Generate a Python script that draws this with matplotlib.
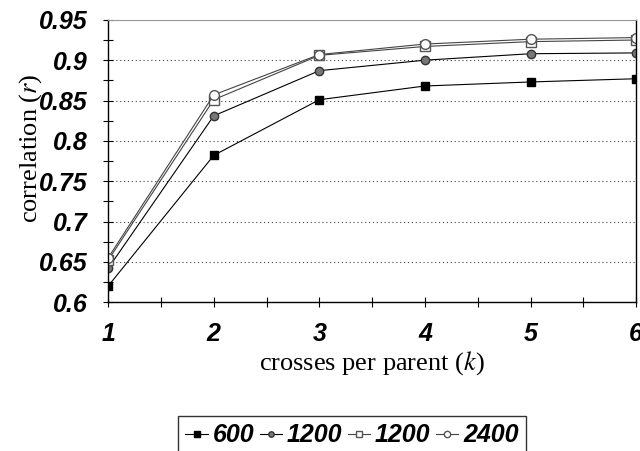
import matplotlib
matplotlib.use("Agg")
import matplotlib.pyplot as plt
from matplotlib.ticker import MultipleLocator

plt.rcParams["mathtext.fontset"] = "stix"

# data
k = [1, 2, 3, 4, 5, 6]
r_600 = [0.620, 0.782, 0.851, 0.868, 0.873, 0.877]
r_1200a = [0.642, 0.831, 0.887, 0.900, 0.908, 0.909]
r_1200b = [0.652, 0.851, 0.906, 0.917, 0.923, 0.925]
r_2400 = [0.655, 0.857, 0.907, 0.920, 0.926, 0.928]
labels = ["600", "1200", "1200", "2400"]

yticks = [0.6, 0.65, 0.7, 0.75, 0.8, 0.85, 0.9, 0.95]
ytick_labels = ["0.6", "0.65", "0.7", "0.75", "0.8", "0.85", "0.9", "0.95"]

fig = plt.figure(figsize=(6.4, 4.51), dpi=100)
ax = fig.add_axes([0.169, 0.330, 0.825, 0.626])

tick_font = dict(family="Liberation Sans", weight="bold", style="italic", size=18)

ax.plot(k, r_600, color="black", lw=0.8, marker="s", ms=6,
        mfc="black", mec="black", label=labels[0])
ax.plot(k, r_1200a, color="black", lw=0.8, marker="o", ms=6,
        mfc="#777777", mec="#333333", label=labels[1])
ax.plot(k, r_1200b, color="#444444", lw=0.8, marker="s", ms=7,
        mfc="white", mec="#555555", label=labels[2])
ax.plot(k, r_2400, color="#444444", lw=0.8, marker="o", ms=7,
        mfc="white", mec="#555555", label=labels[3])

ax.set_xlim(1, 6)
ax.set_ylim(0.6, 0.95)
ax.set_xticks(k)
ax.set_xticklabels([str(v) for v in k], fontdict=tick_font)
ax.set_yticks(yticks)
ax.set_yticklabels(ytick_labels, fontdict=tick_font)
ax.xaxis.set_minor_locator(MultipleLocator(0.5))
ax.yaxis.set_minor_locator(MultipleLocator(0.025))
ax.tick_params(which="both", direction="inout", length=7, width=0.8, color="black")
ax.tick_params(axis="x", pad=11)
ax.tick_params(axis="y", pad=11)

ax.yaxis.grid(True, linestyle=(0, (1, 2.5)), color="#444444", lw=0.8)
ax.set_axisbelow(True)

ax.spines["top"].set_color("#999999")
ax.spines["top"].set_linewidth(0.8)
for s in ["left", "bottom", "right"]:
    ax.spines[s].set_linewidth(1.0)

ax.set_xlabel("crosses per parent ($k$)", family="Liberation Serif", size=19)
ax.set_ylabel("correlation ($r$)", family="Liberation Serif", size=19)
ax.xaxis.set_label_coords(0.5, -0.216, transform=ax.transAxes)
ax.yaxis.set_label_coords(-0.146, 0.546, transform=ax.transAxes)
ax.xaxis.label.set_va("center")
ax.yaxis.label.set_va("center")

leg = fig.legend(loc="upper left", bbox_to_anchor=(0.278, 0.078), ncol=4,
                 prop=dict(family="Liberation Sans", weight="bold", style="italic", size=18),
                 frameon=True, fancybox=False, edgecolor="black",
                 handlelength=0.9, handletextpad=0.2, columnspacing=0.2,
                 borderpad=0.3, borderaxespad=0, markerscale=0.65)
leg.get_frame().set_linewidth(1.0)

fig.savefig("out.png", dpi=100)
